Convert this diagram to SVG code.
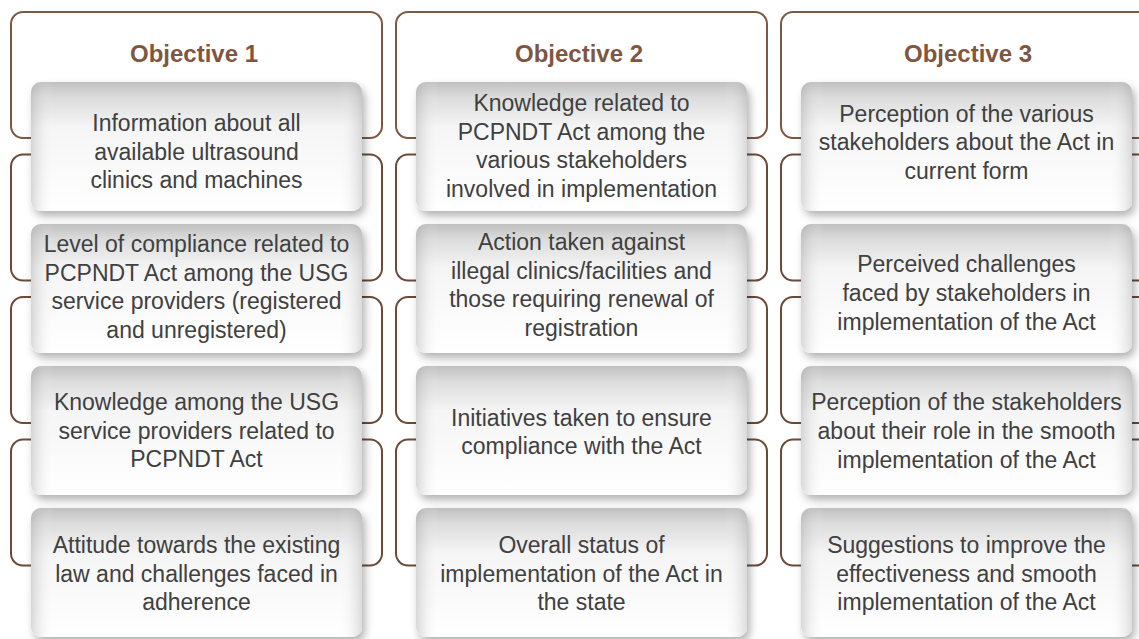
<svg xmlns="http://www.w3.org/2000/svg" width="1139" height="639" viewBox="0 0 1139 639">
<defs>
<linearGradient id="gv" x1="0" y1="0" x2="0" y2="1">
<stop offset="0" stop-color="#c0c0c0"/>
<stop offset="0.12" stop-color="#dcdcdc"/>
<stop offset="0.35" stop-color="#f5f5f5"/>
<stop offset="1" stop-color="#ffffff"/>
</linearGradient>
<linearGradient id="gh" x1="0" y1="0" x2="1" y2="0">
<stop offset="0" stop-color="#a0a0a0" stop-opacity="0.4"/>
<stop offset="0.07" stop-color="#ffffff" stop-opacity="0"/>
<stop offset="0.93" stop-color="#ffffff" stop-opacity="0"/>
<stop offset="1" stop-color="#a0a0a0" stop-opacity="0.35"/>
</linearGradient>
<filter id="sh" x="-10%" y="-10%" width="125%" height="130%">
<feDropShadow dx="3" dy="5" stdDeviation="4" flood-color="#000" flood-opacity="0.3"/>
</filter>
</defs>
<style>
.frame{fill:#ffffff;stroke:#6b4a38;stroke-width:2}
.hframe{fill:#ffffff;stroke:#7d5843;stroke-width:2}
.box{fill:url(#gv);filter:url(#sh)}
.ov{fill:url(#gh)}
.t{font-family:"Liberation Sans",Arial,sans-serif;font-size:23px;fill:#404040;text-anchor:middle}
.h{font-family:"Liberation Sans",Arial,sans-serif;font-size:24px;font-weight:bold;fill:#7f5640;text-anchor:middle}
</style>
<rect width="1139" height="639" fill="#ffffff"/>
<g id="connectors">
<rect class="hframe" x="11" y="12" width="371" height="126" rx="12"/>
<rect class="frame" x="11" y="154.5" width="371" height="126" rx="12"/>
<rect class="frame" x="11" y="297" width="371" height="126" rx="12"/>
<rect class="frame" x="11" y="439.5" width="371" height="126" rx="12"/>
<rect class="hframe" x="396" y="12" width="371" height="126" rx="12"/>
<rect class="frame" x="396" y="154.5" width="371" height="126" rx="12"/>
<rect class="frame" x="396" y="297" width="371" height="126" rx="12"/>
<rect class="frame" x="396" y="439.5" width="371" height="126" rx="12"/>
<rect class="hframe" x="781" y="12" width="371" height="126" rx="12"/>
<rect class="frame" x="781" y="154.5" width="371" height="126" rx="12"/>
<rect class="frame" x="781" y="297" width="371" height="126" rx="12"/>
<rect class="frame" x="781" y="439.5" width="371" height="126" rx="12"/>
</g>
<g id="obj1">
<text class="h" x="194" y="62">Objective 1</text>
</g>
<g id="obj2">
<text class="h" x="579" y="62">Objective 2</text>
</g>
<g id="obj3">
<text class="h" x="968" y="62">Objective 3</text>
</g>
<g id="c1b1"><rect class="box" x="31" y="82" width="331" height="129" rx="10"/><rect class="ov" x="31" y="82" width="331" height="129" rx="10"/>
<text class="t" x="196.5" y="131">Information about all</text><text class="t" x="196.5" y="160">available ultrasound</text><text class="t" x="196.5" y="188">clinics and machines</text></g>
<g id="c1b2"><rect class="box" x="31" y="224" width="331" height="129" rx="10"/><rect class="ov" x="31" y="224" width="331" height="129" rx="10"/>
<text class="t" x="196.5" y="252">Level of compliance related to</text><text class="t" x="196.5" y="281">PCPNDT Act among the USG</text><text class="t" x="196.5" y="309">service providers (registered</text><text class="t" x="196.5" y="338">and unregistered)</text></g>
<g id="c1b3"><rect class="box" x="31" y="366" width="331" height="129" rx="10"/><rect class="ov" x="31" y="366" width="331" height="129" rx="10"/>
<text class="t" x="196.5" y="410">Knowledge among the USG</text><text class="t" x="196.5" y="439">service providers related to</text><text class="t" x="196.5" y="467">PCPNDT Act</text></g>
<g id="c1b4"><rect class="box" x="31" y="508" width="331" height="129" rx="10"/><rect class="ov" x="31" y="508" width="331" height="129" rx="10"/>
<text class="t" x="196.5" y="553">Attitude towards the existing</text><text class="t" x="196.5" y="582">law and challenges faced in</text><text class="t" x="196.5" y="610">adherence</text></g>
<g id="c2b1"><rect class="box" x="416" y="82" width="331" height="129" rx="10"/><rect class="ov" x="416" y="82" width="331" height="129" rx="10"/>
<text class="t" x="581.5" y="111">Knowledge related to</text><text class="t" x="581.5" y="140">PCPNDT Act among the</text><text class="t" x="581.5" y="168">various stakeholders</text><text class="t" x="581.5" y="197">involved in implementation</text></g>
<g id="c2b2"><rect class="box" x="416" y="224" width="331" height="129" rx="10"/><rect class="ov" x="416" y="224" width="331" height="129" rx="10"/>
<text class="t" x="581.5" y="250">Action taken against</text><text class="t" x="581.5" y="279">illegal clinics/facilities and</text><text class="t" x="581.5" y="307">those requiring renewal of</text><text class="t" x="581.5" y="336">registration</text></g>
<g id="c2b3"><rect class="box" x="416" y="366" width="331" height="129" rx="10"/><rect class="ov" x="416" y="366" width="331" height="129" rx="10"/>
<text class="t" x="581.5" y="426">Initiatives taken to ensure</text><text class="t" x="581.5" y="454">compliance with the Act</text></g>
<g id="c2b4"><rect class="box" x="416" y="508" width="331" height="129" rx="10"/><rect class="ov" x="416" y="508" width="331" height="129" rx="10"/>
<text class="t" x="581.5" y="553">Overall status of</text><text class="t" x="581.5" y="582">implementation of the Act in</text><text class="t" x="581.5" y="610">the state</text></g>
<g id="c3b1"><rect class="box" x="801" y="82" width="331" height="129" rx="10"/><rect class="ov" x="801" y="82" width="331" height="129" rx="10"/>
<text class="t" x="966.5" y="122">Perception of the various</text><text class="t" x="966.5" y="150">stakeholders about the Act in</text><text class="t" x="966.5" y="179">current form</text></g>
<g id="c3b2"><rect class="box" x="801" y="224" width="331" height="129" rx="10"/><rect class="ov" x="801" y="224" width="331" height="129" rx="10"/>
<text class="t" x="966.5" y="272">Perceived challenges</text><text class="t" x="966.5" y="301">faced by stakeholders in</text><text class="t" x="966.5" y="330">implementation of the Act</text></g>
<g id="c3b3"><rect class="box" x="801" y="366" width="331" height="129" rx="10"/><rect class="ov" x="801" y="366" width="331" height="129" rx="10"/>
<text class="t" x="966.5" y="410">Perception of the stakeholders</text><text class="t" x="966.5" y="439">about their role in the smooth</text><text class="t" x="966.5" y="468">implementation of the Act</text></g>
<g id="c3b4"><rect class="box" x="801" y="508" width="331" height="129" rx="10"/><rect class="ov" x="801" y="508" width="331" height="129" rx="10"/>
<text class="t" x="966.5" y="553">Suggestions to improve the</text><text class="t" x="966.5" y="582">effectiveness and smooth</text><text class="t" x="966.5" y="610">implementation of the Act</text></g>
</svg>
